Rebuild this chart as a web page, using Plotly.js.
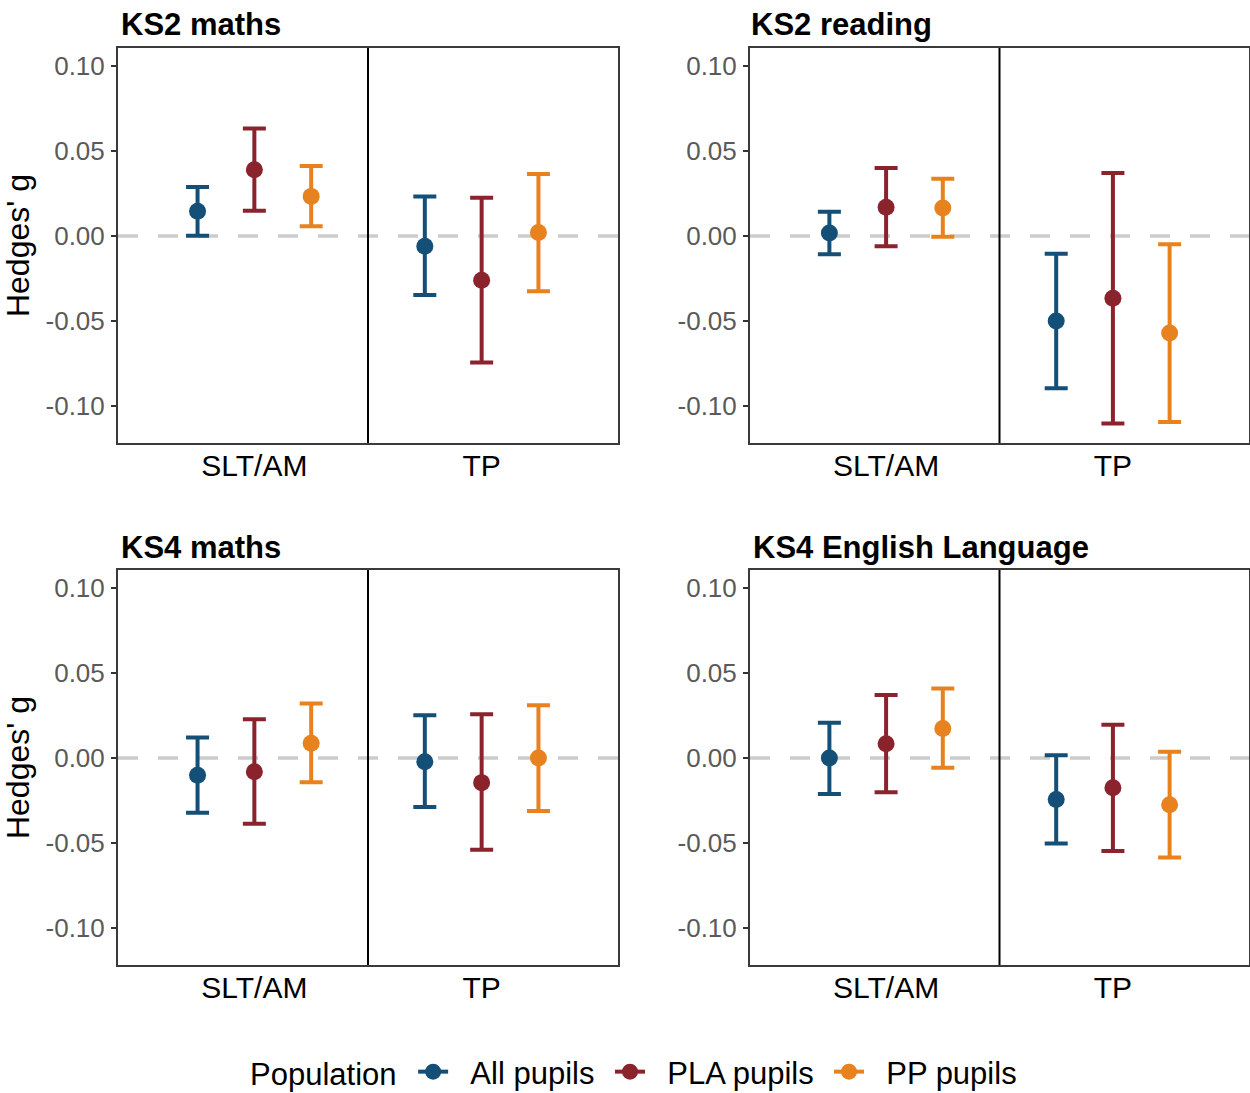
<!DOCTYPE html>
<html>
<head>
<meta charset="utf-8">
<script src="https://cdn.plot.ly/plotly-3.0.1.min.js"></script>
<style>html,body{margin:0;padding:0;background:#fff;}#chart{width:1250px;height:1093px;}</style>
</head>
<body>
<div id="chart"></div>
<script>
// ---- Data ----
const categories = ['SLT/AM', 'TP'];
const populations = ['All pupils', 'PLA pupils', 'PP pupils'];
const panelTitles = ['KS2 maths', 'KS2 reading', 'KS4 maths', 'KS4 English Language'];
const yTickVals = [-0.10, -0.05, 0.00, 0.05, 0.10];
const yTickText = ['-0.10', '-0.05', '0.00', '0.05', '0.10'];

// [population][category]
const ks2MathsEst = [[0.0145, -0.0061], [0.0390, -0.0261], [0.0233, 0.0020]];
const ks2MathsLo  = [[0.0002, -0.0347], [0.0149, -0.0745], [0.0057, -0.0325]];
const ks2MathsHi  = [[0.0288, 0.0233], [0.0633, 0.0225], [0.0412, 0.0365]];

const ks2ReadingEst = [[0.0018, -0.0500], [0.0169, -0.0367], [0.0165, -0.0571]];
const ks2ReadingLo  = [[-0.0108, -0.0896], [-0.0061, -0.1104], [-0.0004, -0.1094]];
const ks2ReadingHi  = [[0.0143, -0.0104], [0.0400, 0.0371], [0.0337, -0.0049]];

const ks4MathsEst = [[-0.0102, -0.0022], [-0.0081, -0.0145], [0.0086, 0.0000]];
const ks4MathsLo  = [[-0.0322, -0.0289], [-0.0387, -0.0540], [-0.0143, -0.0312]];
const ks4MathsHi  = [[0.0120, 0.0251], [0.0228, 0.0257], [0.0320, 0.0310]];

const ks4EnglishEst = [[0.0000, -0.0244], [0.0084, -0.0175], [0.0173, -0.0275]];
const ks4EnglishLo  = [[-0.0212, -0.0503], [-0.0202, -0.0548], [-0.0057, -0.0585]];
const ks4EnglishHi  = [[0.0208, 0.0016], [0.0371, 0.0196], [0.0409, 0.0037]];

// ---- Styling ----
const colors = ['#134f76', '#8b232d', '#e8821f'];
const FONT = 'Liberation Sans, Arial, Helvetica, sans-serif';
const dodge = 0.25;
const NB = '\u00a0';

const panels = [
  {est: ks2MathsEst, lo: ks2MathsLo, hi: ks2MathsHi},
  {est: ks2ReadingEst, lo: ks2ReadingLo, hi: ks2ReadingHi},
  {est: ks4MathsEst, lo: ks4MathsLo, hi: ks4MathsHi},
  {est: ks4EnglishEst, lo: ks4EnglishLo, hi: ks4EnglishHi}
];

const W = 1250, H = 1093;
const px = (a, b) => [a / W, b / W];
const py = (top, bottom) => [1 - bottom / H, 1 - top / H];
const xDomains = [px(118, 618), px(750, 1249), px(118, 618), px(750, 1249)];
const yDomains = [py(48, 443), py(48, 443), py(570, 965), py(570, 965)];
const titlePos = [[119, 25], [749, 25], [119, 547], [751, 547]];
const legendX = [248, 610, 829];
const legendY = 1072;

const traces = [];
const layout = {
  width: W, height: H,
  margin: {l: 0, r: 0, t: 0, b: 0, autoexpand: false},
  paper_bgcolor: '#ffffff', plot_bgcolor: '#ffffff',
  font: {family: FONT, color: '#000'},
  showlegend: true,
  shapes: [], annotations: []
};

panels.forEach((p, pi) => {
  const sfx = pi === 0 ? '' : String(pi + 1);
  const xa = 'x' + sfx, ya = 'y' + sfx;
  populations.forEach((pop, si) => {
    const xs = categories.map((c, ci) => ci + 1 + (si - 1) * dodge);
    const ys = p.est[si];
    traces.push({
      type: 'scatter', mode: 'markers', xaxis: xa, yaxis: ya,
      x: xs, y: ys, name: pop, showlegend: false, legendgroup: pop,
      text: categories, hovertemplate: pop + ' %{text}: %{y:.3f}<extra></extra>',
      marker: {color: colors[si], size: 17},
      error_y: {
        type: 'data', symmetric: false,
        array: ys.map((v, i) => p.hi[si][i] - v),
        arrayminus: ys.map((v, i) => v - p.lo[si][i]),
        color: colors[si], thickness: 4, width: 11.5
      }
    });
  });
  layout['xaxis' + sfx] = {
    domain: xDomains[pi], anchor: ya, range: [0.4, 2.6],
    tickvals: [1, 2], ticktext: categories, ticks: '', ticklabelstandoff: -5,
    tickfont: {size: 30, family: FONT, color: '#000'},
    showgrid: false, zeroline: false, showline: true, mirror: true,
    linecolor: '#3a3a3a', linewidth: 2, automargin: false, fixedrange: true
  };
  layout['yaxis' + sfx] = {
    domain: yDomains[pi], anchor: xa, range: [-0.1218, 0.1106],
    tickvals: yTickVals, ticktext: yTickText, ticks: 'outside', ticklen: 5,
    tickwidth: 1.5, tickcolor: '#333', ticklabelstandoff: 1,
    tickfont: {size: 26, family: FONT, color: '#5a5a5a'},
    showgrid: false, zeroline: false, showline: true, mirror: true,
    linecolor: '#3a3a3a', linewidth: 2, automargin: false, fixedrange: true,
    title: (pi % 2 === 0) ? {text: "Hedges' g", font: {size: 32, family: FONT, color: '#000'}, standoff: 10} : {text: ''}
  };
  // zero reference line
  layout.shapes.push({
    type: 'line', xref: xa + ' domain', yref: ya, x0: 0, x1: 1, y0: 0, y1: 0,
    line: {color: '#cccccc', width: 3.5, dash: '20px,20px'}, layer: 'below'
  });
  // divider between categories
  layout.shapes.push({
    type: 'line', xref: xa, yref: ya + ' domain', x0: 1.5, x1: 1.5, y0: 0, y1: 1,
    line: {color: '#000', width: 2}, layer: 'above'
  });
  layout.annotations.push({
    xref: 'paper', yref: 'paper', x: titlePos[pi][0] / W, y: 1 - titlePos[pi][1] / H,
    xanchor: 'left', yanchor: 'middle', showarrow: false, text: panelTitles[pi],
    font: {size: 31, family: FONT, color: '#000', weight: 'bold'}
  });
});

// legend keys: one legend per population for exact spacing
populations.forEach((pop, si) => {
  const lname = si === 0 ? 'legend' : 'legend' + (si + 1);
  traces.push({
    type: 'scatter', mode: 'lines+markers', x: [null], y: [null], xaxis: 'x', yaxis: 'y',
    name: NB + NB + pop, legend: lname, legendgroup: pop, showlegend: true, hoverinfo: 'skip',
    marker: {color: colors[si], size: 17}, line: {color: colors[si], width: 4}
  });
  const leg = {
    orientation: 'h', x: legendX[si] / W, xanchor: 'left', y: 1 - legendY / H, yanchor: 'middle',
    font: {size: 31, family: FONT, color: '#000'},
    itemwidth: 30, bgcolor: 'rgba(0,0,0,0)', borderwidth: 0
  };
  if (si === 0) {
    leg.title = {text: 'Population' + NB, font: {size: 31, family: FONT, color: '#000'}, side: 'left'};
  }
  layout[lname] = leg;
});

Plotly.newPlot('chart', traces, layout, {displayModeBar: false});
</script>
</body>
</html>
